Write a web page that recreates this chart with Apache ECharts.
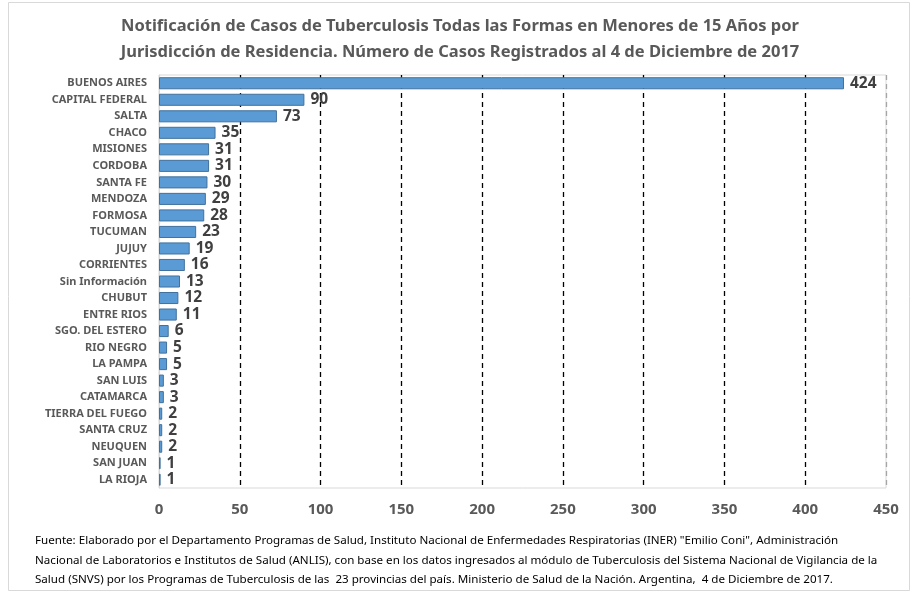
<!DOCTYPE html>
<html><head><meta charset="utf-8">
<script src="https://cdn.jsdelivr.net/npm/echarts@6/dist/echarts.min.js"></script>
<style>html,body{margin:0;padding:0;background:#fff}#c{width:920px;height:594px}</style>
</head><body><div id="c"></div>
<script>
const categories = ["BUENOS AIRES","CAPITAL FEDERAL","SALTA","CHACO","MISIONES","CORDOBA","SANTA FE","MENDOZA","FORMOSA","TUCUMAN","JUJUY","CORRIENTES","Sin Información","CHUBUT","ENTRE RIOS","SGO. DEL ESTERO","RIO NEGRO","LA PAMPA","SAN LUIS","CATAMARCA","TIERRA DEL FUEGO","SANTA CRUZ","NEUQUEN","SAN JUAN","LA RIOJA"];
const cases = [424,90,73,35,31,31,30,29,28,23,19,16,13,12,11,6,5,5,3,3,2,2,2,1,1];
const titleLines = ["Notificación de Casos de Tuberculosis Todas las Formas en Menores de 15 Años por","Jurisdicción de Residencia. Número de Casos Registrados al 4 de Diciembre de 2017"];
const footerLines = ["Fuente: Elaborado por el Departamento Programas de Salud, Instituto Nacional de Enfermedades Respiratorias (INER) \"Emilio Coni\", Administración","Nacional de Laboratorios e Institutos de Salud (ANLIS), con base en los datos ingresados al módulo de Tuberculosis del Sistema Nacional de Vigilancia de la","Salud (SNVS) por los Programas de Tuberculosis de las  23 provincias del país. Ministerio de Salud de la Nación. Argentina,  4 de Diciembre de 2017."];
const FONT = "'Noto Sans',sans-serif";
const chart = echarts.init(document.getElementById('c'));
chart.setOption({
  animation:false,
  textStyle:{fontFamily:FONT},
  graphic:[
    {type:'rect',shape:{x:8.5,y:2.5,width:901,height:588},style:{fill:'none',stroke:'#d9d9d9',lineWidth:1},silent:true},
    {type:'text',left:'center',top:13,style:{text:titleLines.join('\n'),font:"bold 16.5px "+FONT,fill:'#595959',textAlign:'center',lineHeight:26}},
    {type:'text',left:35,top:531,style:{text:footerLines.join('\n'),font:"11.6px "+FONT,fill:'#000',lineHeight:19.5}}
  ],
  grid:{left:159,right:34,top:75,bottom:106,show:true,borderColor:'#d9d9d9',borderWidth:1},
  xAxis:{type:'value',min:0,max:450,interval:50,
    axisLine:{show:false},axisTick:{show:false},
    axisLabel:{fontSize:15,fontWeight:'bold',color:'#595959',margin:14,fontFamily:FONT},
    splitLine:{show:true,lineStyle:{type:[5,4],width:1.3,color:['#d9d9d9','#000','#000','#000','#000','#000','#000','#000','#000','#a6a6a6']}}},
  yAxis:{type:'category',data:categories,inverse:true,
    axisLine:{show:true,lineStyle:{color:'#d9d9d9'}},axisTick:{show:false},
    axisLabel:{fontSize:11,fontWeight:'bold',color:'#595959',margin:12,fontFamily:FONT}},
  series:[{type:'bar',data:cases,barCategoryGap:'27%',
    itemStyle:{color:'#5b9bd5',borderColor:'#41719c',borderWidth:1},
    label:{show:true,position:'right',distance:6,fontSize:15.5,fontWeight:'bold',color:'#404040',fontFamily:FONT}}]
});
</script></body></html>
